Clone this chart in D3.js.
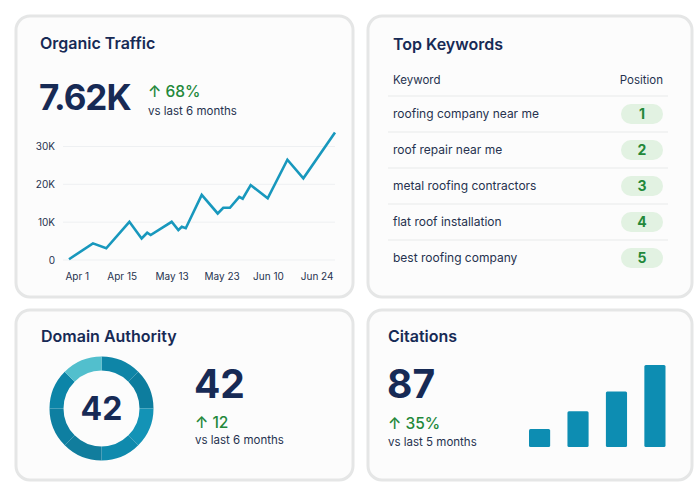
<!DOCTYPE html>
<html lang="en">
	<head>
		<meta charset="utf-8">
		<title>SEO dashboard</title>
		<script type="text/javascript" src="https://cdn.jsdelivr.net/npm/d3@7"></script>
		<style type="text/css">
			body { margin: 0; background: #ffffff; }
			svg { display: block; font-family: Inter, "Noto Sans", sans-serif; }
		</style>
	</head>
	<body>
		<script type="text/javascript">
			//Size
			var w = 700;
			var h = 500;

			//Organic traffic: position along the period (0-100) and visits
			var trafficPos = [0, 9, 14, 22.7, 27.3, 29.4, 30.7, 38.6, 41.1, 42.4, 43.9, 49.9,
							  55.9, 58, 60.5, 64, 65.3, 68.3, 74.7, 82.1, 88.1, 100];
			var trafficValues = [200, 4400, 3100, 10100, 5700, 7200, 6600, 10100, 7900, 8800, 8400, 17200,
								 12300, 13800, 13800, 16700, 16200, 19800, 16300, 26500, 21600, 33700];
			var xTickPos = [2.9, 19.8, 38.6, 57.4, 74.8, 93.1];
			var xTickLabels = ["Apr 1", "Apr 15", "May 13", "May 23", "Jun 10", "Jun 24"];
			var yTicks = [0, 10000, 20000, 30000];
			var yTickLabels = ["0", "10K", "20K", "30K"];

			//Top keywords
			var keywords = ["roofing company near me", "roof repair near me", "metal roofing contractors",
							"flat roof installation", "best roofing company"];
			var positions = [1, 2, 3, 4, 5];

			//Domain authority donut segments
			var donutSegments = [1, 1, 1, 1, 1, 1, 1, 1];
			var donutColors = ["#0e85a7", "#0d7d9e", "#1393b6", "#0f8aad", "#117d9d", "#0e7fa1", "#0c85a8", "#52bfcd"];

			//Citations bars
			var citationMonths = ["M1", "M2", "M3", "M4"];
			var citationValues = [19, 38, 59, 87];

			var navy = "#172a55";
			var textCol = "#26324f";
			var green = "#23883a";
			var teal = "#1898bd";

			var svg = d3.select("body")
						.append("svg")
						.attr("width", w)
						.attr("height", h);

			//Cards
			var cards = [
				{x: 16, y: 16, w: 337, h: 281},
				{x: 368, y: 16, w: 324, h: 281},
				{x: 16, y: 310, w: 337, h: 170},
				{x: 368, y: 310, w: 324, h: 170}
			];
			svg.selectAll("rect.card")
			   .data(cards)
			   .enter()
			   .append("rect")
			   .attr("class", "card")
			   .attr("x", function(d) { return d.x; })
			   .attr("y", function(d) { return d.y; })
			   .attr("width", function(d) { return d.w; })
			   .attr("height", function(d) { return d.h; })
			   .attr("rx", 14)
			   .attr("fill", "#fcfcfc")
			   .attr("stroke", "#e5e6e6")
			   .attr("stroke-width", 3);

			function label(x, y, txt, size, weight, fill, anchor) {
				return svg.append("text")
					.attr("x", x)
					.attr("y", y)
					.attr("font-size", size)
					.attr("font-weight", weight)
					.attr("fill", fill)
					.attr("text-anchor", anchor || "start")
					.text(txt);
			}

			//---- Organic Traffic ----
			label(40, 49, "Organic Traffic", 16, 600, navy);
			label(39, 110, "7.62K", 35, 700, navy).attr("letter-spacing", -1);
			label(148, 97, "↑ 68%", 15.5, 500, green);
			label(148, 115, "vs last 6 months", 11.5, 400, textCol);

			var xScale = d3.scaleLinear()
							.domain([0, 100])
							.range([69, 335]);
			var yScale = d3.scaleLinear()
							.domain([0, 30000])
							.range([260, 146.5]);

			var yAxis = svg.append("g")
				.call(d3.axisLeft(yScale)
					.tickValues(yTicks)
					.tickSize(0)
					.tickFormat(function(d, i) { return yTickLabels[i]; }));
			yAxis.select(".domain").remove();
			yAxis.selectAll("text")
				.attr("x", 55)
				.attr("font-size", 10)
				.attr("font-family", "Inter, sans-serif")
				.attr("fill", textCol);

			//grid
			svg.selectAll("line.grid")
			   .data(yTicks)
			   .enter()
			   .append("line")
			   .attr("class", "grid")
			   .attr("x1", 63)
			   .attr("x2", 335)
			   .attr("y1", function(d) { return yScale(d); })
			   .attr("y2", function(d) { return yScale(d); })
			   .attr("stroke", "#eef0f2")
			   .attr("stroke-width", 1);

			var xAxis = svg.append("g")
				.attr("transform", "translate(0,270)")
				.call(d3.axisBottom(xScale)
					.tickValues(xTickPos)
					.tickSize(0)
					.tickFormat(function(d, i) { return xTickLabels[i]; }));
			xAxis.select(".domain").remove();
			xAxis.selectAll("text")
				.attr("font-size", 10)
				.attr("font-family", "Inter, sans-serif")
				.attr("fill", textCol);

			var line = d3.line()
				.x(function(d, i) { return xScale(trafficPos[i]); })
				.y(function(d) { return yScale(d); });

			svg.append("path")
			   .datum(trafficValues)
			   .attr("d", line)
			   .attr("fill", "none")
			   .attr("stroke", teal)
			   .attr("stroke-width", 2.6)
			   .attr("stroke-linejoin", "miter");

			//---- Top Keywords ----
			label(393, 50, "Top Keywords", 16, 600, navy);
			label(393, 84, "Keyword", 11.5, 400, textCol);
			label(663, 84, "Position", 11.5, 400, textCol, "end");

			var rowScale = d3.scaleBand()
							.domain(d3.range(keywords.length))
							.range([96, 276]);

			svg.selectAll("line.sep")
			   .data(keywords)
			   .enter()
			   .append("line")
			   .attr("class", "sep")
			   .attr("x1", 388)
			   .attr("x2", 668)
			   .attr("y1", function(d, i) { return rowScale(i); })
			   .attr("y2", function(d, i) { return rowScale(i); })
			   .attr("stroke", "#e8eaea")
			   .attr("stroke-width", 1);

			svg.selectAll("text.kw")
			   .data(keywords)
			   .enter()
			   .append("text")
			   .attr("class", "kw")
			   .attr("x", 393)
			   .attr("y", function(d, i) { return rowScale(i) + rowScale.bandwidth() / 2 + 4; })
			   .attr("font-size", 12)
			   .attr("fill", textCol)
			   .text(function(d) { return d; });

			svg.selectAll("rect.pill")
			   .data(positions)
			   .enter()
			   .append("rect")
			   .attr("class", "pill")
			   .attr("x", 621)
			   .attr("y", function(d, i) { return rowScale(i) + rowScale.bandwidth() / 2 - 10; })
			   .attr("width", 42)
			   .attr("height", 20)
			   .attr("rx", 10)
			   .attr("fill", "#e2f2e2");

			svg.selectAll("text.pos")
			   .data(positions)
			   .enter()
			   .append("text")
			   .attr("class", "pos")
			   .attr("x", 642)
			   .attr("y", function(d, i) { return rowScale(i) + rowScale.bandwidth() / 2 + 5; })
			   .attr("text-anchor", "middle")
			   .attr("font-size", 14)
			   .attr("font-weight", 700)
			   .attr("fill", green)
			   .text(function(d) { return d; });

			//---- Domain Authority ----
			label(41, 342, "Domain Authority", 16, 600, navy);

			var pie = d3.pie().sort(null)(donutSegments);
			var arc = d3.arc().innerRadius(38).outerRadius(52);
			svg.append("g")
			   .attr("transform", "translate(101.5,408.5)")
			   .selectAll("path")
			   .data(pie)
			   .enter()
			   .append("path")
			   .attr("d", arc)
			   .attr("fill", function(d, i) { return donutColors[i]; });

			label(101.5, 420, "42", 32, 700, navy, "middle");
			label(194, 398, "42", 39, 700, navy);
			label(195, 428, "↑ 12", 15.5, 500, green);
			label(195, 444, "vs last 6 months", 11.5, 400, textCol);

			//---- Citations ----
			label(388, 342, "Citations", 16, 600, navy);
			label(387, 398, "87", 39, 700, navy);
			label(388, 429, "↑ 35%", 15.5, 500, green);
			label(388, 446, "vs last 5 months", 11.5, 400, textCol);

			var bx = d3.scaleBand()
						.domain(citationMonths)
						.range([529, 665.5])
						.paddingInner(0.45)
						.paddingOuter(0);
			var by = d3.scaleLinear()
						.domain([0, 87])
						.range([447, 365]);

			svg.selectAll("rect.bar")
			   .data(citationValues)
			   .enter()
			   .append("rect")
			   .attr("class", "bar")
			   .attr("x", function(d, i) { return bx(citationMonths[i]); })
			   .attr("y", function(d) { return by(d); })
			   .attr("width", bx.bandwidth())
			   .attr("height", function(d) { return 447 - by(d); })
			   .attr("rx", 1.5)
			   .attr("fill", "#0d8db2");
		</script>
	</body>
</html>
